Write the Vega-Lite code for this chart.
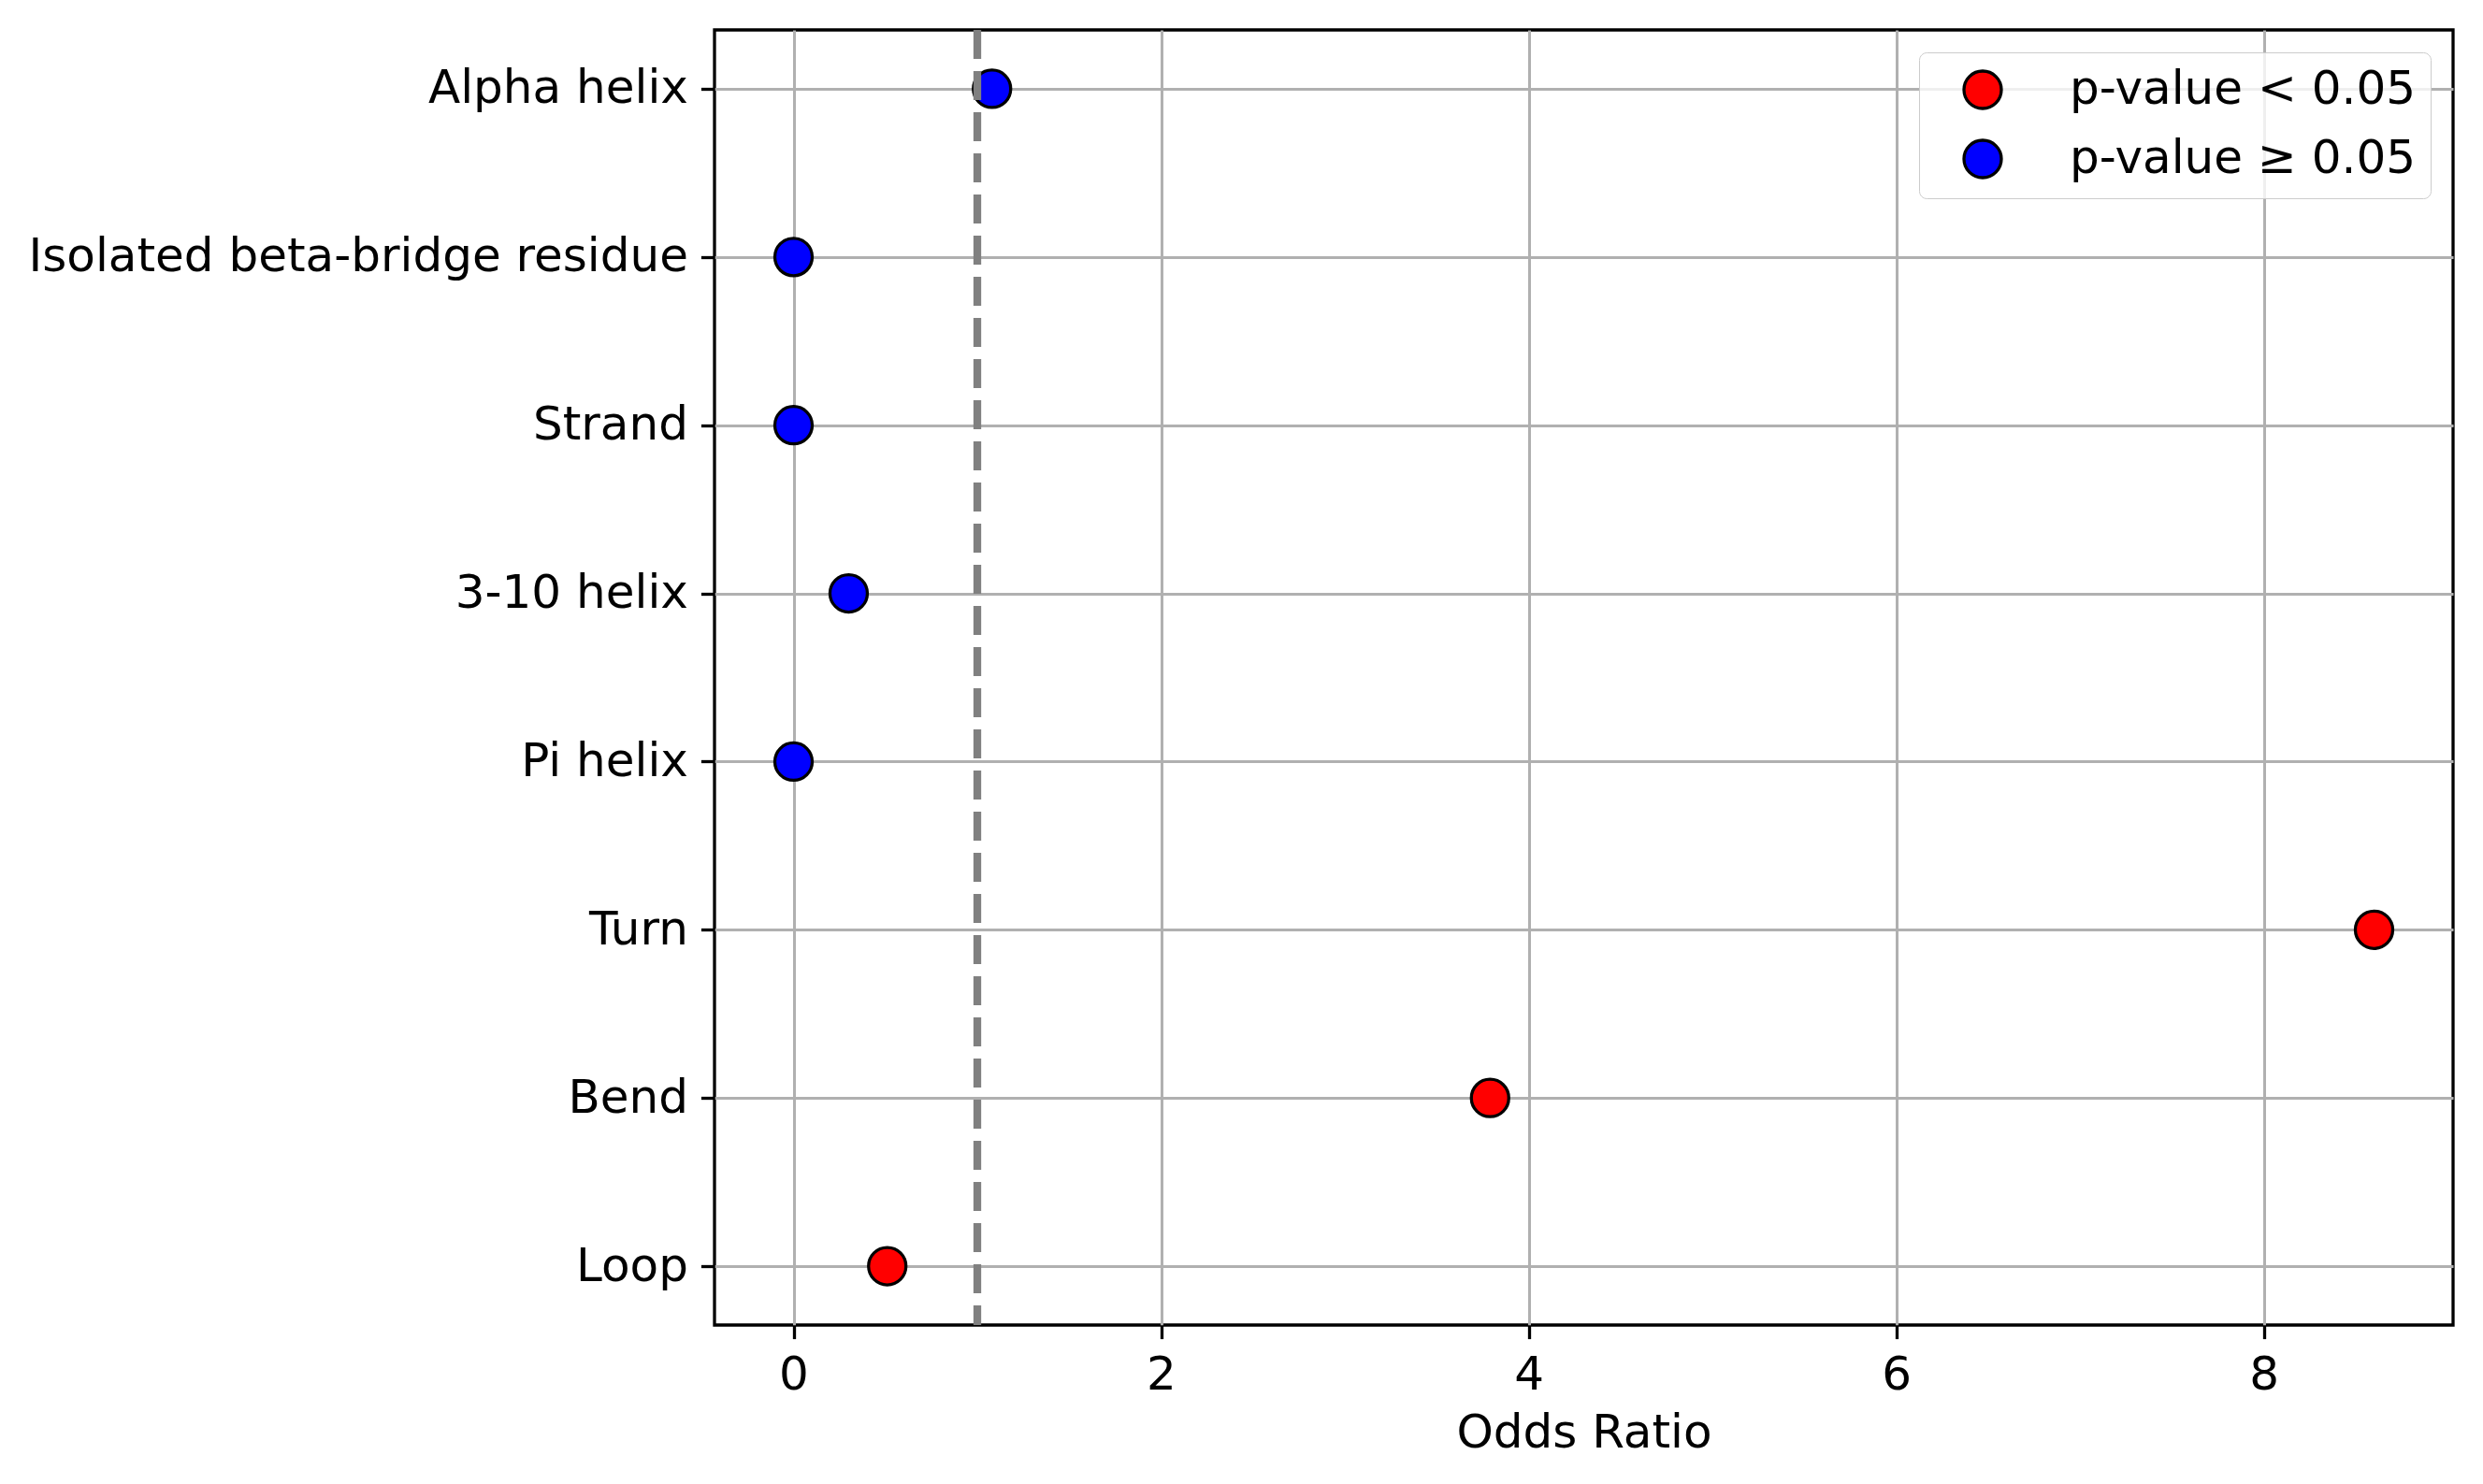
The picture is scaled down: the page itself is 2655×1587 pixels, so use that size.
{
  "$schema": "https://vega.github.io/schema/vega-lite/v6.json",
  "width": 1859,
  "height": 1385,
  "padding": {"left": 30, "top": 27, "right": 31, "bottom": 20},
  "background": "white",
  "config": {
    "font": "DejaVu Sans",
    "view": {"stroke": "black", "strokeWidth": 3.3},
    "axis": {
      "labelFont": "DejaVu Sans",
      "labelFontSize": 50,
      "labelColor": "black",
      "labelLimit": 0,
      "titleFont": "DejaVu Sans",
      "titleFontSize": 50,
      "titleFontWeight": "normal",
      "titleColor": "black",
      "domain": false,
      "tickColor": "black",
      "tickWidth": 3.3,
      "tickSize": 14.6,
      "labelPadding": 14,
      "grid": true,
      "gridColor": "#b0b0b0",
      "gridWidth": 3,
      "zindex": 1
    },
    "legend": {
      "labelFont": "DejaVu Sans",
      "labelFontSize": 50,
      "labelColor": "black",
      "labelLimit": 0
    }
  },
  "data": {
    "values": [
      {"structure": "Alpha helix", "odds_ratio": 1.08, "significance": "p-value ≥ 0.05"},
      {"structure": "Isolated beta-bridge residue", "odds_ratio": 0.0, "significance": "p-value ≥ 0.05"},
      {"structure": "Strand", "odds_ratio": 0.0, "significance": "p-value ≥ 0.05"},
      {"structure": "3-10 helix", "odds_ratio": 0.3, "significance": "p-value ≥ 0.05"},
      {"structure": "Pi helix", "odds_ratio": 0.0, "significance": "p-value ≥ 0.05"},
      {"structure": "Turn", "odds_ratio": 8.6, "significance": "p-value < 0.05"},
      {"structure": "Bend", "odds_ratio": 3.79, "significance": "p-value < 0.05"},
      {"structure": "Loop", "odds_ratio": 0.51, "significance": "p-value < 0.05"}
    ]
  },
  "layer": [
    {
      "mark": {"type": "point", "shape": "circle", "filled": true, "stroke": "black", "strokeWidth": 3.3, "size": 1600, "opacity": 1},
      "encoding": {
        "x": {
          "field": "odds_ratio",
          "type": "quantitative",
          "scale": {"domain": [-0.43, 9.03], "nice": false, "zero": false},
          "axis": {"values": [0, 2, 4, 6, 8], "format": "d", "title": "Odds Ratio", "titlePadding": 12}
        },
        "y": {
          "field": "structure",
          "type": "nominal",
          "sort": null,
          "scale": {"type": "point", "padding": 0.35},
          "axis": {"title": null}
        },
        "color": {
          "field": "significance",
          "type": "nominal",
          "scale": {"domain": ["p-value < 0.05", "p-value ≥ 0.05"], "range": ["red", "blue"]},
          "legend": {
            "title": null,
            "orient": "top-right",
            "offset": 24,
            "padding": 15,
            "rowPadding": 20,
            "symbolType": "circle",
            "symbolSize": 1600,
            "symbolStrokeColor": "black",
            "symbolStrokeWidth": 3.3,
            "symbolOffset": 28,
            "labelOffset": 68,
            "fillColor": "rgba(255,255,255,0.8)",
            "strokeColor": "#cccccc",
            "cornerRadius": 8
          }
        }
      }
    },
    {
      "data": {"values": [{"ref": 1}]},
      "mark": {"type": "rule", "color": "gray", "strokeWidth": 8.3, "strokeDash": [31, 13]},
      "encoding": {"x": {"field": "ref", "type": "quantitative"}}
    }
  ]
}
